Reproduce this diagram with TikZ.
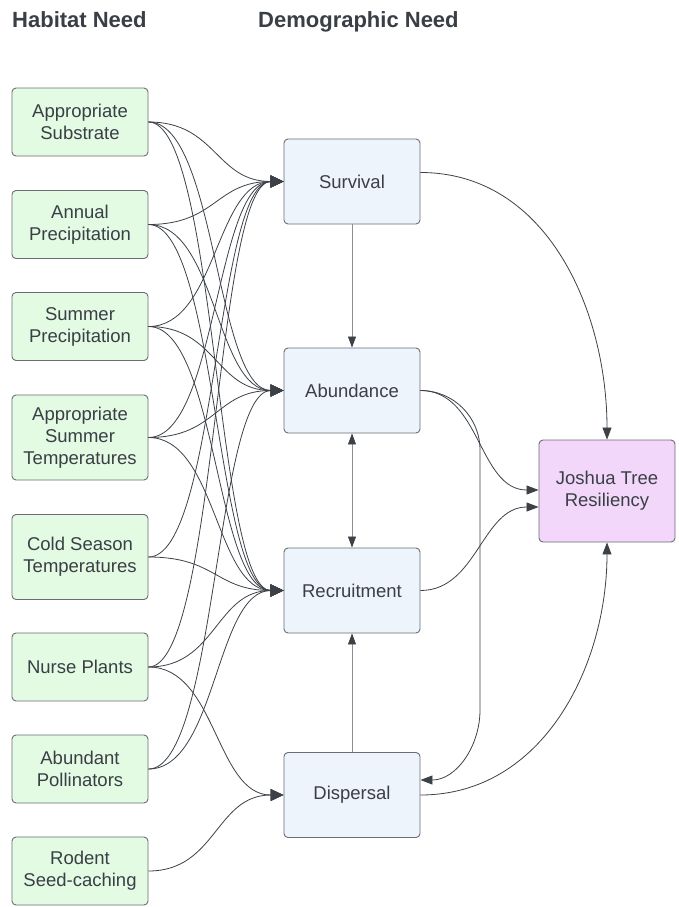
\documentclass[tikz,border=0pt]{standalone}
\usepackage{fontspec}
\setmainfont{Liberation Sans}
\usetikzlibrary{arrows.meta}
\definecolor{ink}{HTML}{3A3F46}
\definecolor{edge}{HTML}{6A6E73}
\definecolor{habfill}{HTML}{E3FAE3}
\definecolor{demfill}{HTML}{EDF4FC}
\definecolor{resfill}{HTML}{F2D7FA}
\definecolor{wire}{HTML}{3C4148}
\definecolor{thinwire}{HTML}{8A8D91}
\tikzset{
  bigtip/.tip={Triangle[length=13pt,width=12pt]},
  smalltip/.tip={Triangle[length=12pt,width=9pt]},
  stemtip/.tip={Triangle[length=11pt,width=8pt,color=wire]},
}
\begin{document}
\begin{tikzpicture}[x=1pt,y=1pt,
  box/.style={draw=edge, line width=0.9pt, rounded corners=4pt, minimum width=136pt,
    inner sep=0pt, align=center, text=ink, font=\fontsize{18.5}{22}\selectfont},
  hab/.style={box, fill=habfill, minimum height=68pt},
  habtall/.style={hab, minimum height=85pt},
  dem/.style={box, fill=demfill, minimum height=85pt},
  res/.style={box, fill=resfill, minimum height=102pt},
  head/.style={anchor=base west, text=ink, font=\fontsize{22}{26}\selectfont\bfseries, inner sep=0pt},
  feed/.style={draw=wire, line width=0.8pt, -bigtip, out=0, in=180, distance=68pt},
  link/.style={draw=wire, line width=0.8pt, -smalltip},
  stem/.style={draw=thinwire, line width=0.7pt},
]
\fill[white] (0,0) rectangle (678,-907);
\useasboundingbox (0,0) rectangle (678,-907);

% column headings
\node[head] (h1) at (12,-28) {Habitat Need};
\node[head] (h2) at (258,-28) {Demographic Need};

% habitat needs
\node[hab] (subs) at (80,-122) {Appropriate\\Substrate};
\node[hab] (annp) at (80,-224.5) {Annual\\Precipitation};
\node[hab] (sump) at (80,-326.5) {Summer\\Precipitation};
\node[habtall] (sumt) at (80,-437.5) {Appropriate\\Summer\\Temperatures};
\node[habtall] (cold) at (80,-557) {Cold Season\\Temperatures};
\node[hab] (nurse) at (80,-667) {Nurse Plants};
\node[hab] (poll) at (80,-769) {Abundant\\Pollinators};
\node[hab] (rod) at (80,-871) {Rodent\\Seed-caching};

% demographic needs
\node[dem] (surv) at (352,-181.5) {Survival};
\node[dem] (abun) at (352,-390.5) {Abundance};
\node[dem] (recr) at (352,-590.5) {Recruitment};
\node[dem] (disp) at (352,-795) {Dispersal};

% outcome
\node[res] (jtr) at (607,-491) {Joshua Tree\\Resiliency};

% habitat -> demographic
\foreach \s in {subs,annp,sump,sumt}{
  \draw[feed] (\s.east) to (surv.west);
  \draw[feed] (\s.east) to (abun.west);
  \draw[feed] (\s.east) to (recr.west);
}
\draw[feed] (cold.east) to (surv.west);
\draw[feed] (cold.east) to (recr.west);
\draw[feed] (nurse.east) to (surv.west);
\draw[feed] (nurse.east) to (recr.west);
\draw[feed] (nurse.east) to (disp.west);
\draw[feed] (poll.east) to (abun.west);
\draw[feed] (poll.east) to (recr.west);
\draw[feed] (rod.east) to (disp.west);

% links between demographic needs
\draw[stem, -stemtip] (surv.south) -- (abun.north);
\draw[stem, stemtip-stemtip] (abun.south) -- (recr.north);
\draw[stem, -stemtip] (disp.north) -- (recr.south);

% demographic -> resiliency
\draw[link] ([yshift=9]surv.east) to[out=0,in=90] (jtr.north);
\draw[link] (abun.east) to[out=0,in=180] ([yshift=1]jtr.west);
\draw[link] (recr.east) to[out=0,in=180] ([yshift=-16]jtr.west);
\draw[link] (disp.east) to[out=0,in=-90] (jtr.south);

% abundance -> dispersal, routed down the gap
\coordinate (drop1) at (480,-450);
\coordinate (drop2) at (480,-710);
\draw[link] (abun.east) to[out=0,in=90] (drop1) -- (drop2) to[out=-90,in=0] ([yshift=15]disp.east);
\end{tikzpicture}
\end{document}
